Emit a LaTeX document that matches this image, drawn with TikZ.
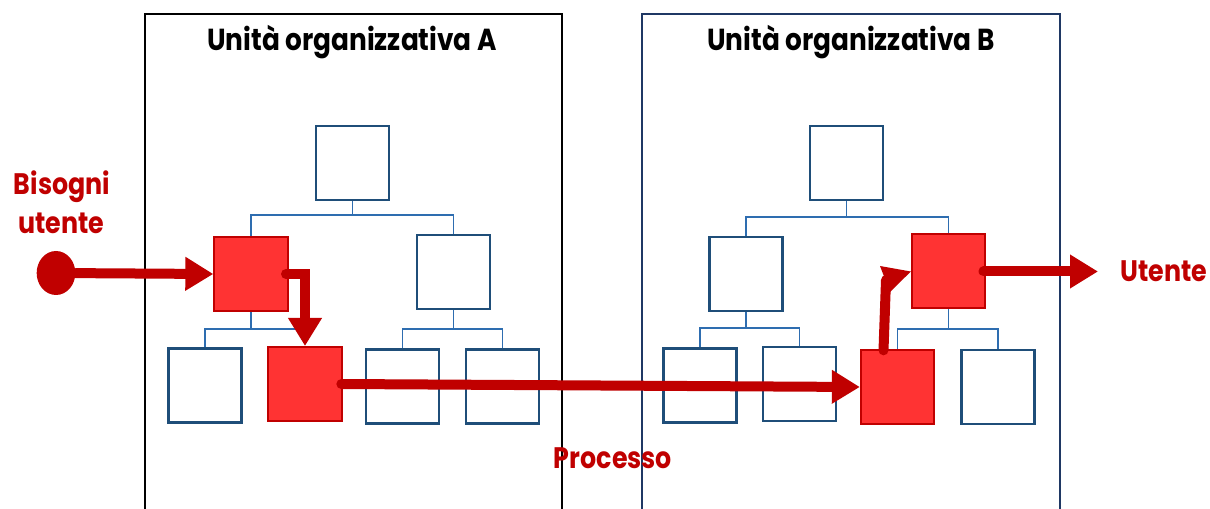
\documentclass[tikz,border=0pt]{standalone}
\usepackage{fontspec}
\setmainfont{Poppins}
\usetikzlibrary{arrows.meta,shapes.geometric,calc}
\definecolor{darkred}{HTML}{C00000}
\definecolor{boxred}{HTML}{FF3333}
\definecolor{boxblue}{HTML}{1F4E79}
\definecolor{connblue}{HTML}{2E6DB0}
\definecolor{panelB}{HTML}{1F3864}
\newcommand{\tallt}[1]{\scalebox{1}[1.17]{#1}}
\newcommand{\tallti}[1]{\scalebox{1.04}[1.2]{#1}}
\tikzset{
  orgbox/.style={draw=boxblue, line width=1.8pt, fill=white, minimum width=55pt, minimum height=55.5pt, inner sep=0pt},
  redbox/.style={draw=darkred, line width=1.5pt, fill=boxred, minimum width=55pt, minimum height=55.5pt, inner sep=0pt},
  conn/.style={draw=connblue, line width=1.1pt},
  redarr/.style={draw=darkred, line width=7.5pt, line cap=round, -{Triangle[length=21pt,width=24pt]}},
  redshaft/.style={draw=darkred, line width=7.5pt, line cap=round},
  title/.style={font=\fontsize{19}{22}\selectfont\bfseries, text=black},
  redtext/.style={font=\fontsize{19}{22}\selectfont\bfseries, text=darkred}
}
\begin{document}
\begin{tikzpicture}[x=0.75pt,y=-0.75pt]
\useasboundingbox (0,0) rectangle (1210,509);
\fill[white] (0,0) rectangle (1210,509);
% panels
\draw[black, line width=1.1pt] (145,512) -- (145,14) -- (562,14) -- (562,512);
\draw[panelB, line width=1.1pt] (642,512) -- (642,14) -- (1060,14) -- (1060,512);
\node[title] (tA) at (352,42) {\tallti{Unità organizzativa A}};
\node[title] (tB) at (851,42) {\tallti{Unità organizzativa B}};
% tree A
\node[orgbox] (Atop) at (352.5,163) {};
\node[redbox] (A2L) at (251,274) {};
\node[orgbox] (A2R) at (453.5,272) {};
\node[orgbox] (A3a) at (205,385.5) {};
\node[redbox] (A3b) at (305,384) {};
\node[orgbox] (A3c) at (402.5,386.5) {};
\node[orgbox] (A3d) at (502.5,386.5) {};
% tree B
\node[orgbox] (Btop) at (846.5,163) {};
\node[orgbox] (B2L) at (746,274) {};
\node[redbox] (B2R) at (948.5,271.5) {};
\node[orgbox] (B3a) at (700,385.5) {};
\node[orgbox] (B3b) at (799.5,384) {};
\node[redbox] (B3c) at (897.5,387) {};
\node[orgbox] (B3d) at (998,387) {};
% connectors A
\draw[conn] (Atop.south) -- (Atop.south |- 0,215);
\draw[conn] (A2L.north) |- (Atop.south |- 0,215);
\draw[conn] (A2R.north) |- (Atop.south |- 0,215);
\draw[conn] (A2L.south) -- (A2L.south |- 0,329);
\draw[conn] (A3a.north) |- (A2L.south |- 0,329) -- (306,329);
\draw[conn] (A2R.south) -- (A2R.south |- 0,329);
\draw[conn] (A3c.north) |- (A2R.south |- 0,329);
\draw[conn] (A3d.north) |- (A2R.south |- 0,329);
% connectors B
\draw[conn] (Btop.south) -- (Btop.south |- 0,217);
\draw[conn] (B2L.north) |- (Btop.south |- 0,217);
\draw[conn] (B2R.north) |- (Btop.south |- 0,217);
\draw[conn] (B2L.south) -- (B2L.south |- 0,328);
\draw[conn] (B3a.north) |- (B2L.south |- 0,328);
\draw[conn] (B3b.north) |- (B2L.south |- 0,328);
\draw[conn] (B2R.south) -- (B2R.south |- 0,329);
\draw[conn] (B3c.north) |- (B2R.south |- 0,329);
\draw[conn] (B3d.north) |- (B2R.south |- 0,329);
% start circle
\node[ellipse, fill=darkred, minimum width=29pt, minimum height=33pt, inner sep=0pt] (start) at (56,273) {};
% red arrows
\draw[redarr] (start) -- (A2L.west);
\draw[redarr] ([xshift=-2pt]A2L.east) -| (A3b.north);
\draw[redarr] ([xshift=-1pt]A3b.east) -- (B3c.west);
\coordinate (bend) at (886,280);
\draw[redshaft] ([xshift=-10.5pt,yshift=-1pt]B3c.north) -- (bend);
\fill[darkred] (880,266) -- (B2R.west) -- (890,292) -- cycle;
\coordinate (out) at (1098,271.5);
\draw[redarr] ([xshift=-2pt]B2R.east) -- (out);
% labels
\node[redtext] (bis) at (62,187) {\tallt{Bisogni}};
\node[redtext] (ute) at (61,223) {\tallt{utente}};
\node[redtext] (ut) at (1164,271) {\tallt{Utente}};
\node[redtext] (proc) at (613,458) {\tallt{Processo}};
\end{tikzpicture}
\end{document}
